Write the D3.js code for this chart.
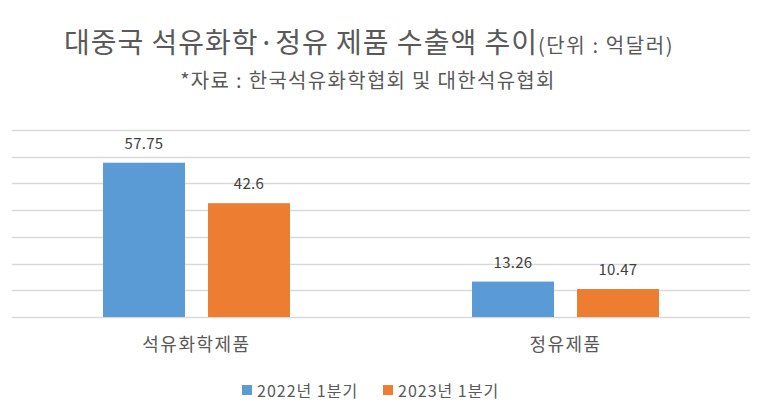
<!DOCTYPE html>
<html>
<head>
<meta charset="utf-8">
<script src="https://cdn.jsdelivr.net/npm/d3@7"></script>
<style>
	body { margin: 0; background: #ffffff; }
	svg { display: block; font-family: "Noto Sans CJK KR", "Noto Sans", sans-serif; }
</style>
</head>
<body>
<svg id="chart" width="760" height="409"></svg>
<script>

var vsCategory = ["석유화학제품", "정유제품"];
var vsSeries = ["2022년 1분기", "2023년 1분기"];
var vfValue2022 = [57.75, 13.26];
var vfValue2023 = [42.6, 10.47];
var vnGridTick = [0, 10, 20, 30, 40, 50, 60, 70];

var g_colorSeries = ["#5B9BD5", "#ED7D31"];
var g_colorText = "#595959";
var g_colorGrid = "#D9D9D9";

var g_domSVGMain = d3.select("#chart");

function funcDrawChart() {

	var nLeft = 12, nRight = 750, nTop = 130, nBottom = 317;

	var tjBars = [];
	vsCategory.forEach(function(sCat, i) {
		tjBars.push({ cat: sCat, series: 0, value: vfValue2022[i] });
		tjBars.push({ cat: sCat, series: 1, value: vfValue2023[i] });
	});

	var x0 = d3.scaleBand()
				.domain(vsCategory)
				.range([nLeft, nRight])
				.padding(0);

	var x1 = d3.scaleBand()
				.domain([0, 1])
				.range([0, x0.bandwidth()])
				.paddingInner(0.219)
				.paddingOuter(0.867);

	var y = d3.scaleLinear()
				.domain([0, 70])
				.range([nBottom, nTop]);

	// grid lines
	g_domSVGMain.selectAll("line.grid")
				.data(vnGridTick)
				.enter()
				.append("line")
					.attr("class", "grid")
					.attr("x1", nLeft)
					.attr("x2", nRight)
					.attr("y1", function(d) { return Math.round(y(d)) + 0.5; })
					.attr("y2", function(d) { return Math.round(y(d)) + 0.5; })
					.attr("stroke", g_colorGrid)
					.attr("stroke-width", 1.5);

	// bars
	g_domSVGMain.selectAll("rect.bar")
				.data(tjBars)
				.enter()
				.append("rect")
					.attr("class", "bar")
					.attr("x", function(d) { return x0(d.cat) + x1(d.series); })
					.attr("y", function(d) { return y(d.value); })
					.attr("width", x1.bandwidth())
					.attr("height", function(d) { return y(0) - y(d.value); })
					.attr("fill", function(d) { return g_colorSeries[d.series]; });

	// value labels
	g_domSVGMain.selectAll("text.value")
				.data(tjBars)
				.enter()
				.append("text")
					.attr("class", "value")
					.attr("x", function(d) { return x0(d.cat) + x1(d.series) + x1.bandwidth() / 2; })
					.attr("y", function(d) { return y(d.value) - 14; })
					.attr("text-anchor", "middle")
					.attr("font-size", "15px")
					.attr("letter-spacing", "0.3px")
					.attr("fill", "#404040")
					.text(function(d) { return d.value; });

	// category labels
	g_domSVGMain.selectAll("text.category")
				.data(vsCategory)
				.enter()
				.append("text")
					.attr("class", "category")
					.attr("x", function(d) { return x0(d) + x0.bandwidth() / 2; })
					.attr("y", 351)
					.attr("text-anchor", "middle")
					.attr("font-size", "18px")
					.attr("letter-spacing", "1.5px")
					.attr("fill", g_colorText)
					.text(function(d) { return d; });

	// title
	var domTitle = g_domSVGMain.append("text")
					.attr("x", 369)
					.attr("y", 53)
					.attr("text-anchor", "middle")
					.attr("fill", g_colorText);

	domTitle.append("tspan")
					.attr("font-size", "28px")
					.attr("letter-spacing", "1px")
					.text("대중국 석유화학·정유 제품 수출액 추이");

	domTitle.append("tspan")
					.attr("font-size", "20px")
					.attr("letter-spacing", "1.6px")
					.text("(단위 : 억달러)");

	g_domSVGMain.append("text")
					.attr("x", 368)
					.attr("y", 88)
					.attr("text-anchor", "middle")
					.attr("font-size", "20px")
					.attr("letter-spacing", "1.3px")
					.attr("fill", g_colorText)
					.text("*자료 : 한국석유화학협회 및 대한석유협회");

	// legend
	var vnLegendX = [242, 383];

	var domLegend = g_domSVGMain.selectAll("g.legend")
				.data(vsSeries)
				.enter()
				.append("g")
					.attr("class", "legend")
					.attr("transform", function(d, i) { return "translate(" + vnLegendX[i] + ", 385)"; });

	domLegend.append("rect")
					.attr("width", 10)
					.attr("height", 10)
					.attr("fill", function(d, i) { return g_colorSeries[i]; });

	domLegend.append("text")
					.attr("x", 15)
					.attr("y", 12)
					.attr("font-size", "16px")
					.attr("letter-spacing", "1px")
					.attr("fill", g_colorText)
					.text(function(d) { return d; });
}

funcDrawChart();

</script>
</body>
</html>
